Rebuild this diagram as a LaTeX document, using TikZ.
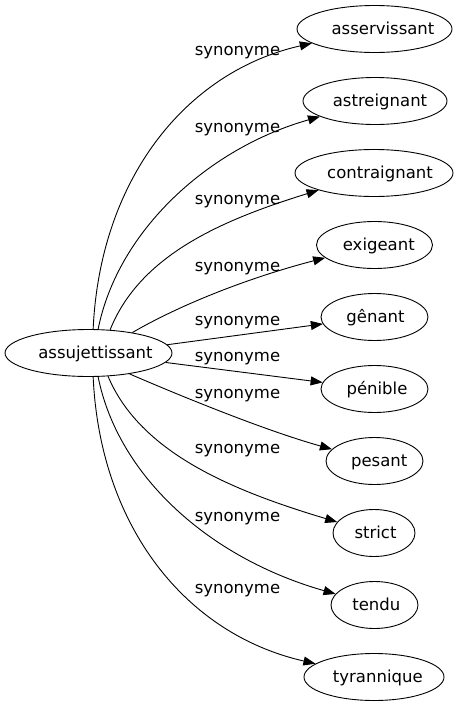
\documentclass[tikz,border=0pt]{standalone}
\usepackage{fontspec}
\setmainfont{DejaVu Sans}
\usetikzlibrary{shapes.geometric,arrows.meta}
\newcommand\shtxt[2]{\makebox[0pt]{\hspace*{#1}#2}}
\begin{document}
\begin{tikzpicture}[x=1pt,y=-1pt,
  every node/.style={font=\fontsize{16.5}{20}\selectfont},
  word/.style={draw,ellipse,inner sep=0pt,minimum height=47pt,line width=0.9pt,text height=15pt,text depth=4pt},
  lbl/.style={anchor=base,inner sep=0pt},
  syn/.style={draw,line width=0.9pt,-{Triangle[length=12pt,width=9pt]}}]
\useasboundingbox (0,0) rectangle (459,707);
\node[word,minimum width=167pt] (src) at (88.5,353) {\shtxt{14pt}{assujettissant}};
\node[word,minimum width=155pt] (t1) at (374.5,29) {\shtxt{17pt}{asservissant}};
\node[word,minimum width=144pt] (t2) at (375,101) {\shtxt{10pt}{astreignant}};
\node[word,minimum width=158pt] (t3) at (374,173) {\shtxt{12pt}{contraignant}};
\node[word,minimum width=116pt] (t4) at (374.5,245) {\shtxt{8.6pt}{exigeant}};
\node[word,minimum width=107pt] (t5) at (374.5,317) {\shtxt{2pt}{gênant}};
\node[word,minimum width=107pt] (t6) at (374.5,389) {\shtxt{5pt}{pénible}};
\node[word,minimum width=97pt] (t7) at (374.5,461) {\shtxt{9.4pt}{pesant}};
\node[word,minimum width=82pt] (t8) at (374,533) {\shtxt{3pt}{strict}};
\node[word,minimum width=87pt] (t9) at (374.5,605) {\shtxt{3.6pt}{tendu}};
\node[word,minimum width=140pt] (t10) at (374,677) {\shtxt{7.6pt}{tyrannique}};
\draw[syn] (src.79) .. controls (100,180) and (185,72) .. (t1);
\draw[syn] (src.68) .. controls (118,230) and (209,148) .. (t2);
\draw[syn] (src.47) .. controls (140,255) and (222,220) .. (t3);
\draw[syn] (src.25) .. controls (185,302) and (255,276) .. (t4);
\draw[syn] (src.6.5) -- (t5);
\draw[syn] (src.-7) -- (t6);
\draw[syn] (src.-27) .. controls (190,400) and (270,432) .. (t7);
\draw[syn] (src.-50) .. controls (140,452) and (230,490) .. (t8);
\draw[syn] (src.-68) .. controls (118,476) and (209,558) .. (t9);
\draw[syn] (src.-79) .. controls (100,526) and (185,634) .. (t10);
\node[lbl] (l1) at (237.5,55.2) {synonyme};
\node[lbl] (l2) at (237.5,132.2) {synonyme};
\node[lbl] (l3) at (237.5,204.5) {synonyme};
\node[lbl] (l4) at (237.5,271.2) {synonyme};
\node[lbl] (l5) at (237.5,325.5) {synonyme};
\node[lbl] (l6) at (237.5,361.8) {synonyme};
\node[lbl] (l7) at (237.5,398.5) {synonyme};
\node[lbl] (l8) at (237.5,453.8) {synonyme};
\node[lbl] (l9) at (237.5,521.2) {synonyme};
\node[lbl] (l10) at (237.5,593.8) {synonyme};
\end{tikzpicture}
\end{document}
